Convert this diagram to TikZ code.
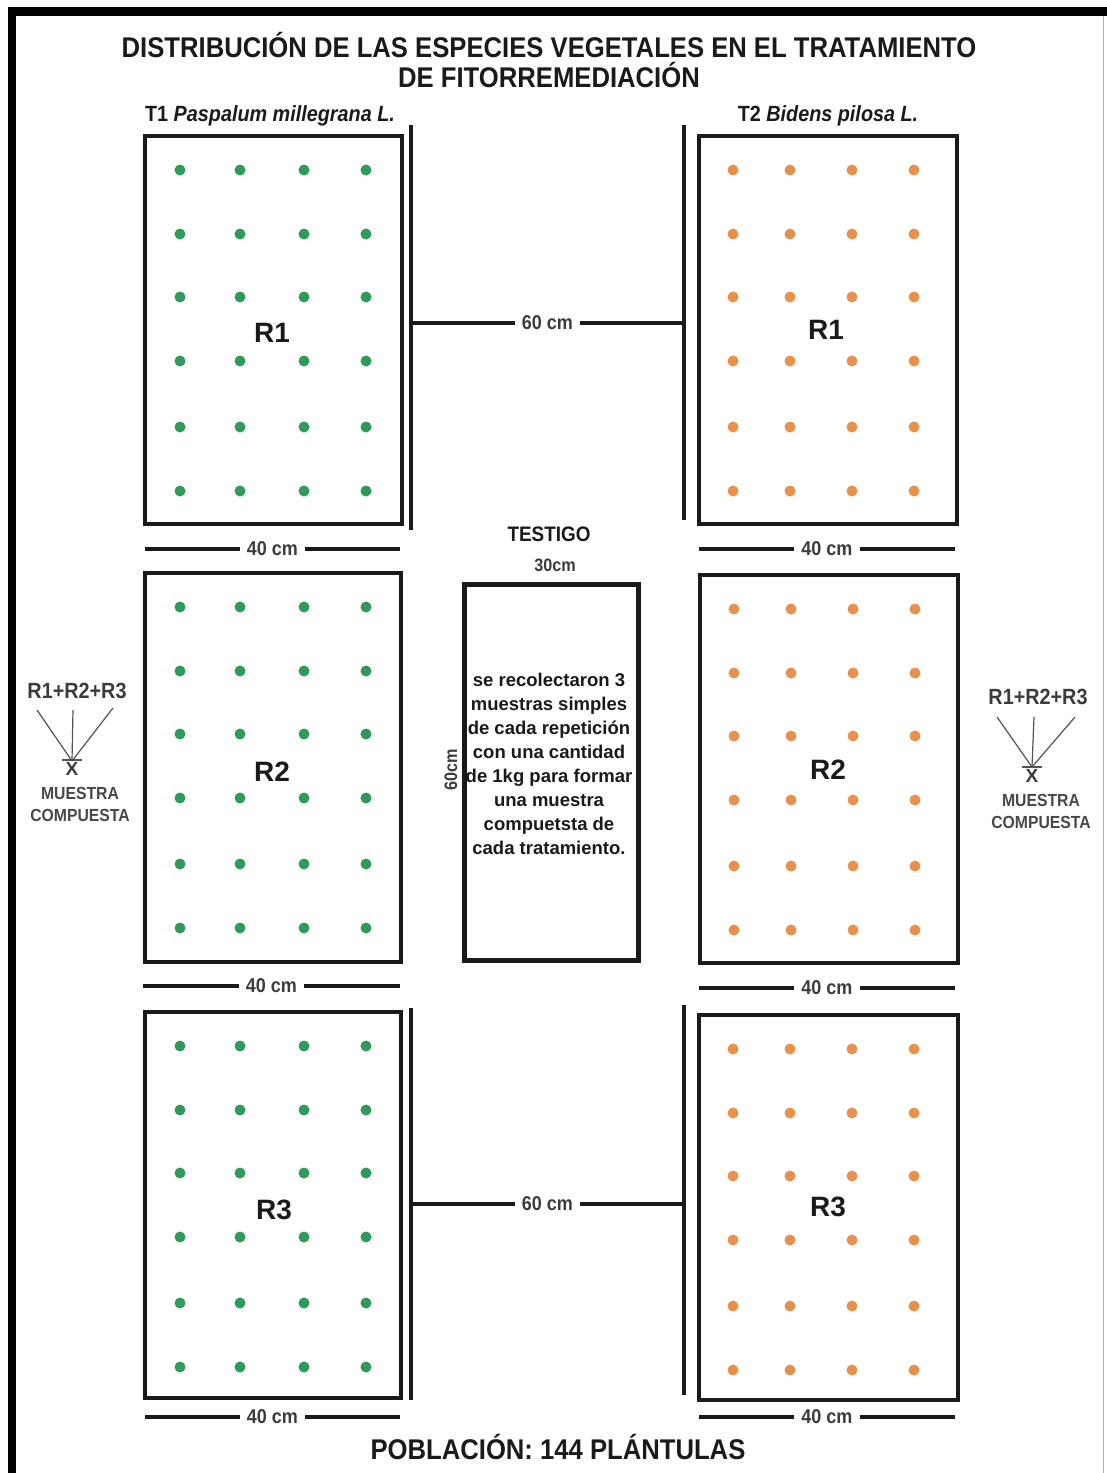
\documentclass[tikz,border=0pt]{standalone}
\usepackage{fontspec}
\setmainfont{Liberation Sans}
\newfontfamily\narrowfont[FakeStretch=0.9]{Liberation Sans}
\usetikzlibrary{calc}
\definecolor{tgreen}{HTML}{2E9A5C}
\definecolor{torange}{HTML}{E8914C}
\definecolor{ink}{HTML}{1A1A1A}
\begin{document}
\begin{tikzpicture}[x=1pt,y=-1pt,
  plotbox/.style={draw=ink,line width=4pt,inner sep=0pt,outer sep=0pt},
  bar/.style={draw=ink,line width=4pt},
  thinline/.style={draw=ink!75,line width=1.2pt},
  dimlbl/.style={fill=white,inner sep=0pt,inner xsep=7pt,text=ink!85,font=\narrowfont\bfseries\fontsize{20}{22}\selectfont},
  titlelbl/.style={align=center,text=ink,font=\narrowfont\bfseries\fontsize{28.5}{30}\selectfont},
  sublbl/.style={text=ink,font=\narrowfont\bfseries\fontsize{22}{24}\selectfont},
  rlbl/.style={text=ink,font=\bfseries\fontsize{28}{30}\selectfont},
  sumlbl/.style={text=ink!85,font=\narrowfont\bfseries\fontsize{22}{24}\selectfont},
  mclbl/.style={text=ink!80,align=center,font=\narrowfont\bfseries\fontsize{17.5}{22}\selectfont},
  xlbl/.style={text=ink!85,inner sep=0pt,font=\bfseries\fontsize{19}{20}\selectfont},
  bodytxt/.style={text=ink,align=center,font=\bfseries\fontsize{18.5}{24}\selectfont},
  smalllbl/.style={text=ink!85,font=\narrowfont\bfseries\fontsize{18}{20}\selectfont}
]
\useasboundingbox (0,0) rectangle (1107,1473);
\fill[white] (0,0) rectangle (1107,1473);

% outer frame
\fill[black] (8,7) rectangle (1107,16);
\fill[black] (8,7) rectangle (16,1473);
\draw[gray!60,line width=1pt] (1103,16) -- (1103,1473);

% titles
\node[titlelbl] (title) at (549,60) {DISTRIBUCIÓN DE LAS ESPECIES VEGETALES EN EL TRATAMIENTO\\DE FITORREMEDIACIÓN};
\node[sublbl] (t1) at (270,116) {T1 \textit{Paspalum millegrana L.}};
\node[sublbl] (t2) at (828,116) {T2 \textit{Bidens pilosa L.}};

% plot boxes
\node[plotbox,minimum width=257pt,minimum height=388pt] (L1) at (273.5,330) {};
\node[plotbox,minimum width=256pt,minimum height=389pt] (L2) at (273,767.5) {};
\node[plotbox,minimum width=256pt,minimum height=386pt] (L3) at (273,1205) {};
\node[plotbox,minimum width=258pt,minimum height=388pt] (R1) at (828,330) {};
\node[plotbox,minimum width=258pt,minimum height=388pt] (R2) at (829,769) {};
\node[plotbox,minimum width=259pt,minimum height=385pt] (R3) at (828.5,1207.5) {};

% plants
\foreach \b in {L1,L2,L3}{
  \foreach \dx in {35,95,159,221}{
    \foreach \dy in {34,98,161,225,291,355}{
      \fill[tgreen] ($(\b.north west)+(\dx,\dy)$) circle[radius=5.5pt];
    }
  }
}
\foreach \b in {R1,R2,R3}{
  \foreach \dx in {34,91,153,215}{
    \foreach \dy in {34,98,161,225,291,355}{
      \fill[torange] ($(\b.north west)+(\dx,\dy)$) circle[radius=5.5pt];
    }
  }
}

% replicate labels
\node[rlbl] (L1r) at (272,333) {R1};
\node[rlbl] (L2r) at (272,772) {R2};
\node[rlbl] (L3r) at (274,1210) {R3};
\node[rlbl] (R1r) at (826,330) {R1};
\node[rlbl] (R2r) at (828,770) {R2};
\node[rlbl] (R3r) at (828,1207) {R3};

% 60 cm separations
\coordinate (a1t) at (411,125); \coordinate (a1b) at (411,530);
\coordinate (b1t) at (684,125); \coordinate (b1b) at (684,520);
\draw[bar] (a1t) -- (a1b);
\draw[bar] (b1t) -- (b1b);
\coordinate (a1m) at (411,323); \coordinate (b1m) at (684,323);
\draw[bar] (a1m) -- node[dimlbl] (d60a) {60 cm} (b1m);

\coordinate (a3t) at (411,1008); \coordinate (a3b) at (411,1400);
\coordinate (b3t) at (684,1005); \coordinate (b3b) at (684,1395);
\draw[bar] (a3t) -- (a3b);
\draw[bar] (b3t) -- (b3b);
\coordinate (a3m) at (411,1204); \coordinate (b3m) at (684,1204);
\draw[bar] (a3m) -- node[dimlbl] (d60b) {60 cm} (b3m);

% 40 cm widths
\coordinate (w1a) at (145,549); \coordinate (w1b) at (400,549);
\draw[bar] (w1a) -- node[dimlbl] (d40a) {40 cm} (w1b);
\coordinate (w2a) at (699,549); \coordinate (w2b) at (955,549);
\draw[bar] (w2a) -- node[dimlbl] (d40b) {40 cm} (w2b);
\coordinate (w3a) at (143,986); \coordinate (w3b) at (400,986);
\draw[bar] (w3a) -- node[dimlbl] (d40c) {40 cm} (w3b);
\coordinate (w4a) at (699,988); \coordinate (w4b) at (955,988);
\draw[bar] (w4a) -- node[dimlbl] (d40d) {40 cm} (w4b);
\coordinate (w5a) at (145,1417); \coordinate (w5b) at (400,1417);
\draw[bar] (w5a) -- node[dimlbl] (d40e) {40 cm} (w5b);
\coordinate (w6a) at (699,1417); \coordinate (w6b) at (955,1417);
\draw[bar] (w6a) -- node[dimlbl] (d40f) {40 cm} (w6b);

% testigo
\node[text=ink,font=\narrowfont\bfseries\fontsize{21}{24}\selectfont] (testigo) at (549,534) {TESTIGO};
\node[smalllbl] (w30) at (555,565) {30cm};
\node[plotbox,line width=5pt,minimum width=174pt,minimum height=376pt] (T) at (551,772) {};
\node[smalllbl,rotate=90] (h60) at (451,770) {60cm};
\node[bodytxt] (Ttxt) at (549,764) {se recolectaron 3\\muestras simples\\de cada repetición\\con una cantidad\\de 1kg para formar\\una muestra\\compuetsta de\\cada tratamiento.};

% muestra compuesta (left)
\node[sumlbl] (sL) at (77,691) {R1+R2+R3};
\coordinate (xL) at (72,761);
\coordinate (sL1) at (37,710); \coordinate (sL2) at (73,710); \coordinate (sL3) at (113,708);
\draw[thinline] (sL1) -- (xL);
\draw[thinline] (sL2) -- (xL);
\draw[thinline] (sL3) -- (xL);
\draw[thinline] (62,760) -- (82,760);
\node[xlbl] (XL) at (72,769) {X};
\node[mclbl] (mL) at (80,804) {MUESTRA\\COMPUESTA};

% muestra compuesta (right)
\node[sumlbl] (sR) at (1038,697) {R1+R2+R3};
\coordinate (xR) at (1032,767);
\coordinate (sR1) at (997,717); \coordinate (sR2) at (1034,717); \coordinate (sR3) at (1075,717);
\draw[thinline] (sR1) -- (xR);
\draw[thinline] (sR2) -- (xR);
\draw[thinline] (sR3) -- (xR);
\draw[thinline] (1022,767) -- (1042,767);
\node[xlbl] (XR) at (1032,776) {X};
\node[mclbl] (mR) at (1041,811) {MUESTRA\\COMPUESTA};

% population
\node[titlelbl] (pob) at (558,1447) {POBLACIÓN: 144 PLÁNTULAS};
\end{tikzpicture}
\end{document}
